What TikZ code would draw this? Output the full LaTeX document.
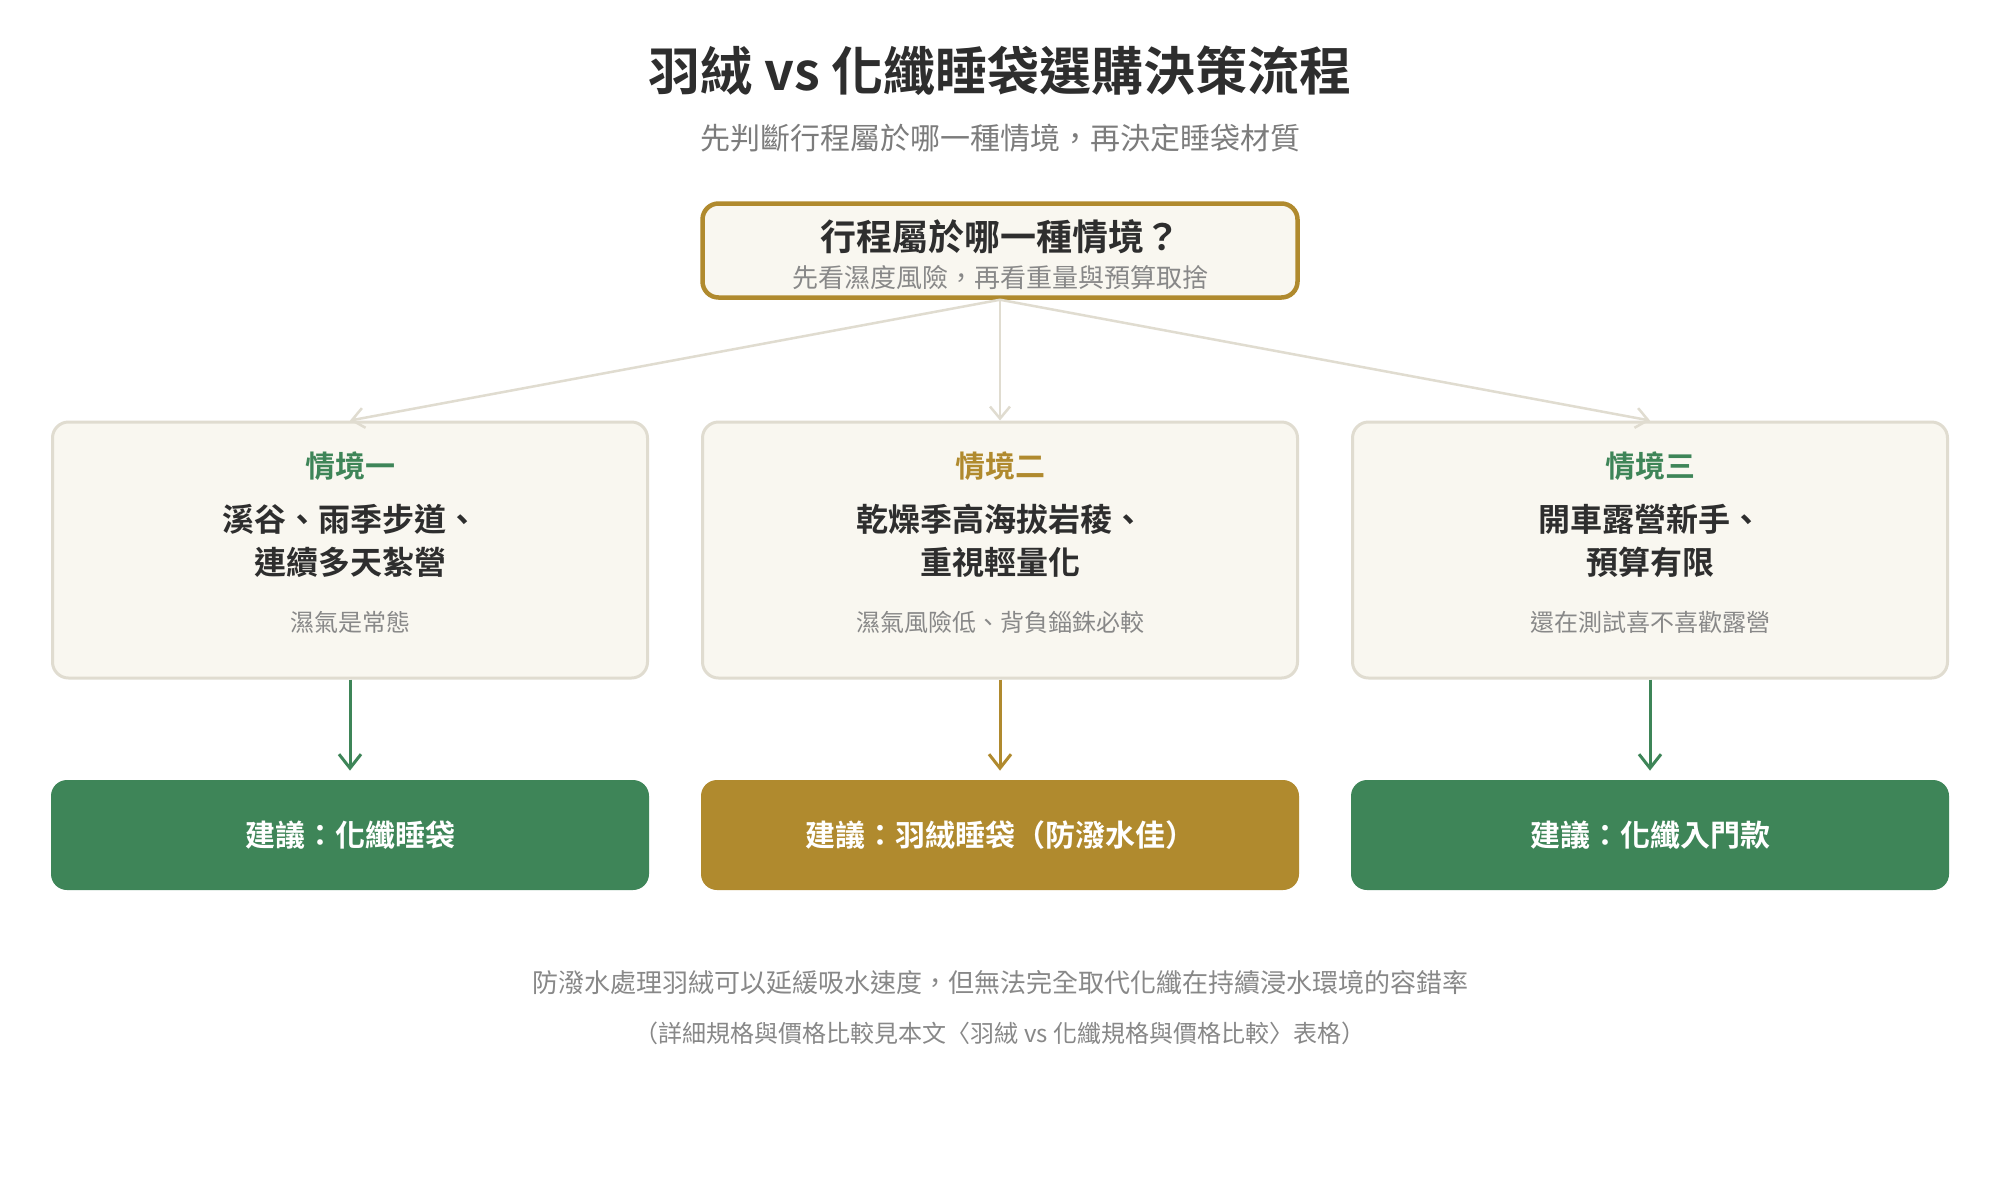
\documentclass[tikz,border=0pt]{standalone}
\usepackage{fontspec}
\setmainfont{Noto Sans CJK TC}[BoldFont={Noto Sans CJK TC Bold}]
\usetikzlibrary{arrows.meta}
\definecolor{ink}{HTML}{2E2E2E}
\definecolor{muted}{HTML}{888888}
\definecolor{subt}{HTML}{7C7C7C}
\definecolor{cream}{HTML}{F9F7F0}
\definecolor{edge}{HTML}{E0DCD0}
\definecolor{leaf}{HTML}{3E8558}
\definecolor{gold}{HTML}{B08A2E}
\tikzset{
  txt/.style={inner sep=0pt, align=center},
  startbox/.style={draw=gold, line width=2.25pt, fill=cream, rounded corners=8pt,
    minimum width=297.5pt, minimum height=47pt, inner sep=0pt},
  scenbox/.style={draw=edge, line width=1.5pt, fill=cream, rounded corners=8pt,
    minimum width=297.5pt, minimum height=128pt, inner sep=0pt},
  resbox/.style={rounded corners=8pt, minimum width=299pt, minimum height=55pt,
    inner sep=0pt, text=white, font=\fontsize{15}{18}\selectfont\bfseries},
  graylink/.style={draw=edge, line width=1.25pt,
    -{Straight Barb[length=6pt, width=10pt, line width=1.25pt]}},
  downlink/.style={line width=1.5pt, shorten >=4.5pt,
    -{Straight Barb[length=7pt, width=11pt, line width=1.5pt]}},
  lbl/.style={txt, font=\fontsize{15}{18}\selectfont\bfseries},
  mainln/.style={txt, text=ink, font=\fontsize{16}{21.5}\selectfont\bfseries},
  subln/.style={txt, text=muted, font=\fontsize{12}{14}\selectfont},
}
\begin{document}
\begin{tikzpicture}[x=0.5pt,y=-0.5pt]
\useasboundingbox[fill=white] (0,0) rectangle (2000,1200);

% title
\node[txt, text=ink, font=\fontsize{26}{30}\selectfont\bfseries] (title) at (1000,71) {羽絨 vs 化纖睡袋選購決策流程};
\node[txt, text=subt, font=\fontsize{15}{18}\selectfont] (subtitle) at (1000,138) {先判斷行程屬於哪一種情境，再決定睡袋材質};

% start box
\node[startbox] (start) at (1000,250.5) {};
\node[txt, text=ink, font=\fontsize{18}{21}\selectfont\bfseries] (startq) at (1000,237) {行程屬於哪一種情境？};
\node[txt, text=muted, font=\fontsize{13}{15}\selectfont] (starts) at (1000,278) {先看濕度風險，再看重量與預算取捨};

% scenario boxes
\node[scenbox] (s1) at (350,550) {};
\node[scenbox] (s2) at (1000,550) {};
\node[scenbox] (s3) at (1650,550) {};

\node[lbl, text=leaf] (s1l) at (350,466) {情境一};
\node[mainln] (s1m) at (350,540.5) {溪谷、雨季步道、\\連續多天紮營};
\node[subln] (s1s) at (350,622) {濕氣是常態};

\node[lbl, text=gold] (s2l) at (1000,466) {情境二};
\node[mainln] (s2m) at (1000,540.5) {乾燥季高海拔岩稜、\\重視輕量化};
\node[subln] (s2s) at (1000,622) {濕氣風險低、背負錙銖必較};

\node[lbl, text=leaf] (s3l) at (1650,466) {情境三};
\node[mainln] (s3m) at (1650,540.5) {開車露營新手、\\預算有限};
\node[subln] (s3s) at (1650,622) {還在測試喜不喜歡露營};

% result boxes
\node[resbox, fill=leaf] (r1) at (350,835) {建議：化纖睡袋};
\node[resbox, fill=gold] (r2) at (1000,835) {建議：羽絨睡袋（防潑水佳）};
\node[resbox, fill=leaf] (r3) at (1650,835) {建議：化纖入門款};

% connectors
\draw[graylink] (start.south) -- (s1.north);
\draw[graylink] (start.south) -- (s2.north);
\draw[graylink] (start.south) -- (s3.north);
\draw[downlink, draw=leaf] (s1.south) -- (r1.north);
\draw[downlink, draw=gold] (s2.south) -- (r2.north);
\draw[downlink, draw=leaf] (s3.south) -- (r3.north);

% footnotes
\node[txt, text=muted, font=\fontsize{13}{15}\selectfont] (note1) at (1000,983) {防潑水處理羽絨可以延緩吸水速度，但無法完全取代化纖在持續浸水環境的容錯率};
\node[txt, text=muted, font=\fontsize{12}{14}\selectfont] (note2) at (1000,1033) {（詳細規格與價格比較見本文〈羽絨 vs 化纖規格與價格比較〉表格）};
\end{tikzpicture}
\end{document}
